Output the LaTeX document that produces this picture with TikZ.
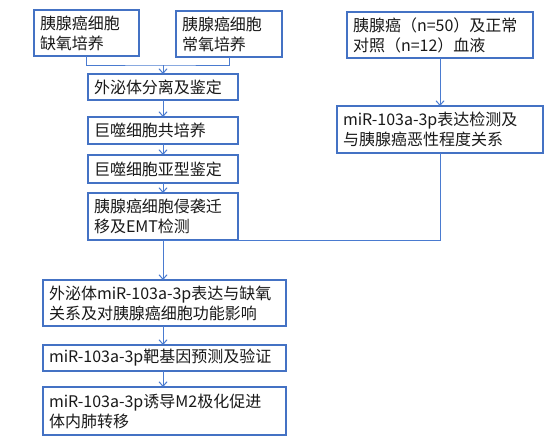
\documentclass[tikz,border=0pt]{standalone}
\usepackage{fontspec}
\setmainfont{Noto Sans CJK SC}
\usetikzlibrary{arrows.meta}
\definecolor{bblue}{HTML}{4472C4}
\definecolor{lblue}{HTML}{4A7BD0}
\tikzset{
  box/.style={draw=bblue, line width=1.3pt, fill=white, inner sep=0pt, outer sep=0pt, minimum width=#1, text width=#1-12pt, align=left, font=\fontsize{16}{20}\selectfont, text=black!90},
  conn/.style={draw=lblue, line width=1pt},
  arr/.style={conn, -{Straight Barb[length=4.5pt,width=8pt,line width=1pt]}}
}
\begin{document}
\begin{tikzpicture}[x=1pt,y=-1pt]
\useasboundingbox (0,0) rectangle (558,442);
\node[box=105pt, minimum height=46pt] (A) at (86.5,33) {胰腺癌细胞\\缺氧培养};
\node[box=106pt, minimum height=46pt] (B) at (229,34) {胰腺癌细胞\\常氧培养};
\node[box=150pt, minimum height=26pt] (C) at (163,87) {外泌体分离及鉴定};
\node[box=150pt, minimum height=27pt] (D) at (163,130.5) {巨噬细胞共培养};
\node[box=150pt, minimum height=28pt] (E) at (163,169) {巨噬细胞亚型鉴定};
\node[box=150pt, minimum height=47pt] (F) at (163,216.5) {胰腺癌细胞侵袭迁\\移及EMT检测};
\node[box=243pt, minimum height=46pt] (G) at (164.5,303) {外泌体miR-103a-3p表达与缺氧\\关系及对胰腺癌细胞功能影响};
\node[box=243pt, minimum height=26pt] (H) at (164.5,358) {miR-103a-3p靶基因预测及验证};
\node[box=243pt, minimum height=48pt] (I) at (164.5,411) {miR-103a-3p诱导M2极化促进\\体内肺转移};
\node[box=186pt, minimum height=46pt] (R1) at (440,35) {胰腺癌（n=50）及正常\\对照（n=12）血液};
\node[box=206pt, minimum height=47pt] (R2) at (440,129.5) {miR-103a-3p表达检测及\\与胰腺癌恶性程度关系};
\coordinate (m) at (163,65);
\draw[conn] (A.south) |- (m) -| (B.south);
\draw[arr] (m) -- (C.north);
\draw[arr] (C) -- (D);
\draw[arr] (D) -- (E);
\draw[arr] (E) -- (F);
\draw[arr] (F.south) -- (F.south |- G.north);
\draw[arr] (R1) -- (R2);
\draw[conn] (R2.south) |- (F.south);
\draw[arr] (G.south -| F.south) -- (F.south |- H.north);
\draw[arr] (H.south -| F.south) -- (F.south |- I.north);
\end{tikzpicture}
\end{document}
